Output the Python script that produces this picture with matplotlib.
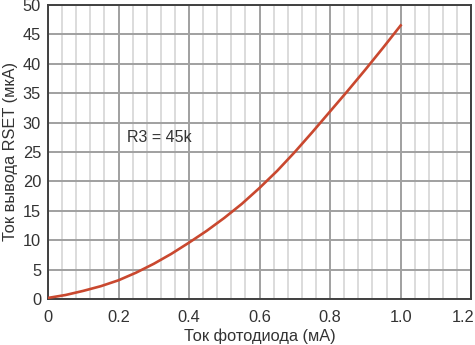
import numpy as np
import matplotlib.pyplot as plt
from matplotlib.ticker import MultipleLocator
from matplotlib.transforms import offset_copy

plt.rcParams['font.family'] = ['Liberation Sans', 'DejaVu Sans']

# ток фотодиода (мА) и ток вывода RSET (мкА)
i_photo = [0, 0.05, 0.1, 0.15, 0.2, 0.25, 0.3, 0.35, 0.4, 0.45, 0.5,
           0.55, 0.6, 0.65, 0.7, 0.75, 0.8, 0.85, 0.9, 0.95, 1.0]
i_rset = [0.2, 0.7, 1.4, 2.2, 3.2, 4.5, 6.0, 7.7, 9.6, 11.6, 13.8,
          16.2, 18.9, 21.8, 25.0, 28.4, 31.9, 35.4, 39.0, 42.7, 46.5]
x_labels = ['0', '0.2', '0.4', '0.6', '0.8', '1.0', '1.2']

txt = '#333333'
fig = plt.figure(figsize=(4.75, 3.45), dpi=100)
ax = fig.add_axes([0.101, 0.133, 0.891, 0.853])

ax.plot(i_photo, i_rset, color='#c9482f', lw=1.9, zorder=3)

ax.set_xlim(0, 1.2)
ax.set_ylim(0, 50)
ax.xaxis.set_minor_locator(MultipleLocator(0.04))
ax.yaxis.set_major_locator(MultipleLocator(5))
ax.set_xticks(np.arange(0, 1.21, 0.2))
ax.set_xticklabels(x_labels)

ax.grid(which='minor', axis='x', color='#dcdcdc', lw=1.4)
ax.grid(which='major', axis='both', color='#a0a0a0', lw=1.4)
ax.set_axisbelow(True)
ax.tick_params(which='both', length=0, labelsize=11.8, colors=txt)
ax.tick_params(axis='x', pad=8)
ax.tick_params(axis='y', pad=5)
for s in ax.spines.values():
    s.set_color('#404040')
    s.set_linewidth(1.4)

# последняя подпись у края рисунка
last = ax.get_xticklabels()[-1]
last.set_horizontalalignment('right')
last.set_transform(offset_copy(last.get_transform(), fig=fig, x=3, units='dots'))

ax.set_xlabel('Ток фотодиода (мА)', fontsize=11.8, color=txt, labelpad=2)
ax.set_ylabel('Ток вывода RSET (мкА)', fontsize=11.8, color=txt, labelpad=3)
ax.text(0.224, 27.4, 'R3 = 45k', fontsize=11.5, color=txt, va='center')

fig.savefig('out.png')
